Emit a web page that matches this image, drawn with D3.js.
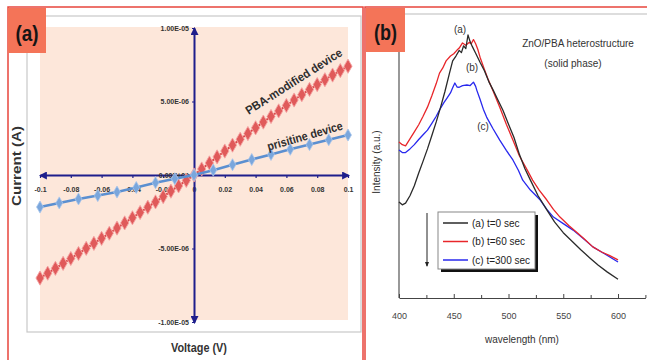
<!DOCTYPE html>
<html>
<head>
<meta charset="utf-8">
<title>I-V and PL spectra</title>
<style>
body{margin:0;background:#fff;}
text{font-family:"Liberation Sans Narrow","Liberation Sans",Arial,sans-serif;}
.pb text{font-family:"Liberation Sans",Arial,sans-serif;}
</style>
</head>
<body>
<svg width="647" height="360"></svg>
<script src="https://d3js.org/d3.v7.min.js"></script>
<script>
// ---- panel (a): I-V curves ----
var pbaVolts = [-0.1,-0.095,-0.09,-0.085,-0.08,-0.075,-0.07,-0.065,-0.06,-0.055,-0.05,-0.045,-0.04,-0.035,-0.03,-0.025,-0.02,-0.015,-0.01,-0.005,
  0,0.005,0.01,0.015,0.02,0.025,0.03,0.035,0.04,0.045,0.05,0.055,0.06,0.065,0.07,0.075,0.08,0.085,0.09,0.095,0.1];
// current in 1e-6 A
var pbaCurrent = [-7.01,-6.68,-6.35,-6.01,-5.68,-5.34,-4.99,-4.65,-4.31,-3.96,-3.61,-3.26,-2.91,-2.55,-2.19,-1.83,-1.47,-1.10,-0.74,-0.37,
  0,0.41,0.82,1.23,1.63,2.03,2.43,2.82,3.21,3.60,3.98,4.36,4.73,5.10,5.46,5.82,6.15,6.48,6.80,7.10,7.40];
var priVolts = [-0.1,-0.0875,-0.075,-0.0625,-0.05,-0.0375,-0.025,-0.0125,0,0.0125,0.025,0.0375,0.05,0.0625,0.075,0.0875,0.1];
var priCurrent = [-2.18,-1.90,-1.63,-1.40,-1.16,-0.85,-0.52,-0.25,0,0.33,0.70,1.05,1.40,1.75,2.07,2.40,2.72];
var voltTicks = [-0.1,-0.08,-0.06,-0.04,-0.02,0,0.02,0.04,0.06,0.08,0.1];
var currentTicks = [-1e-5,-5e-6,0,5e-6,1e-5];
var currentTickLabels = ["-1.00E-05","-5.00E-06","0.00E+00","5.00E-06","1.00E-05"];

// ---- panel (b): PL spectra ----
var wlA = [400,403,406,410,414,418,422,426,430,434,438,442,446,449,452,455,457,459,461,463,465,467,470,474,478,482,486,490,495,500,505,510,515,520,527,535,542,550,558,566,574,582,590,600];
var intA = [338,328,334,360,395,440,482,525,572,620,672,728,790,835,852,872,864,888,878,926,902,885,862,830,800,762,732,700,660,612,565,505,455,415,360,310,268,230,200,170,142,115,92,66];
var wlB = [400,403,406,410,414,418,422,426,430,434,437,440,443,447,450,453,455,458,461,464,466,468,470,472,474,478,481,486,492,498,504,510,517,522,528,535,541,547,555,563,570,577,585,592,600];
var intB = [549,540,536,560,585,610,640,672,712,755,792,810,835,852,860,873,880,898,890,900,895,910,895,875,848,805,774,728,672,612,556,500,451,415,380,345,312,285,255,229,205,180,162,150,134];
var wlC = [400,403,406,410,414,418,422,426,430,434,437,441,444,447,449,451,453,455,458,462,465,468,470,471,474,477,480,486,492,498,504,509,513,520,529,535,541,550,559,568,577,588,600];
var intC = [521,512,512,525,540,558,575,591,615,640,662,688,705,722,740,757,743,742,748,750,748,760,745,732,700,665,637,595,556,520,486,450,415,380,345,312,285,262,239,210,180,155,127];
var wlTicks = [400,450,500,550,600];
var wlMinor = [425,475,525,575,625];
var legendLabels = ["(a) t=0 sec","(b) t=60 sec","(c) t=300 sec"];
var curveColors = ["#2a2a2a","#e8262a","#2828ee"];

var svg = d3.select("svg");
var defs = svg.append("defs");
defs.append("marker").attr("id","arr").attr("viewBox","0 0 10 10")
    .attr("refX",8).attr("refY",5).attr("markerWidth",4).attr("markerHeight",4)
    .attr("orient","auto-start-reverse")
    .append("path").attr("d","M0,0L10,5L0,10z").attr("fill","#1e1e8c");
defs.append("marker").attr("id","arrK").attr("viewBox","0 0 10 10")
    .attr("refX",8).attr("refY",5).attr("markerWidth",5).attr("markerHeight",5)
    .attr("orient","auto")
    .append("path").attr("d","M0,1L10,5L0,9z").attr("fill","#222");

// ================= panel (a) =================
var pa = svg.append("g");
pa.append("rect").attr("x",8).attr("y",7).attr("width",355).attr("height",360)
  .attr("fill","#fff").attr("stroke","#e8453c").attr("stroke-width",1.5);
pa.append("rect").attr("x",27).attr("y",16).attr("width",334).attr("height",316)
  .attr("fill","#fff").attr("stroke","#c8c8c8").attr("stroke-width",1.2);

var x = d3.scaleLinear().domain([-0.1,0.1]).range([40,348]);
var y = d3.scaleLinear().domain([-1e-5,1e-5]).range([322,28]);

pa.append("rect").attr("x",40).attr("y",27).attr("width",308).attr("height",293).attr("fill","#fde7da");

var pbaPts = pbaVolts.map(function(v,i){ return [v, pbaCurrent[i]*1e-6]; });
var priPts = priVolts.map(function(v,i){ return [v, priCurrent[i]*1e-6]; });
var line = d3.line().x(function(d){return x(d[0]);}).y(function(d){return y(d[1]);});

// axes
var xAxis = pa.append("g").attr("transform","translate(0,"+y(0)+")")
  .call(d3.axisBottom(x).tickValues(voltTicks).tickSize(3).tickSizeOuter(0).tickPadding(9)
    .tickFormat(function(d){ return d===0 ? "0" : String(+d.toFixed(2)); }));
var yAxis = pa.append("g").attr("transform","translate("+x(0)+",0)")
  .call(d3.axisLeft(y).tickValues(currentTicks).tickSize(2).tickSizeOuter(0).tickPadding(3)
    .tickFormat(function(d,i){ return currentTickLabels[i]; }));
[xAxis,yAxis].forEach(function(a){
  a.select(".domain").attr("stroke","#1e1e8c").attr("stroke-width",2)
   .attr("marker-start","url(#arr)").attr("marker-end","url(#arr)");
  a.selectAll(".tick line").attr("stroke","#1e1e8c").attr("stroke-width",1.2);
  a.selectAll(".tick text").attr("fill","#333").attr("font-size",7).attr("font-weight","bold")
   .style("font-family","'Liberation Sans Narrow','Liberation Sans',Arial,sans-serif");
});

pa.append("path").datum(pbaPts).attr("d",line).attr("fill","none").attr("stroke","#d94848").attr("stroke-width",2);
pa.append("g").selectAll("path").data(pbaPts).enter().append("path")
  .attr("transform",function(d){return "translate("+x(d[0])+","+y(d[1])+")";})
  .attr("d",d3.symbol(d3.symbolDiamond).size(58))
  .attr("fill","#e05a5a").attr("stroke","#f4a3a3").attr("stroke-width",0.9);

pa.append("path").datum(priPts).attr("d",line).attr("fill","none").attr("stroke","#5b8fd0").attr("stroke-width",2.6);
pa.append("g").selectAll("path").data(priPts).enter().append("path")
  .attr("transform",function(d){return "translate("+x(d[0])+","+y(d[1])+")";})
  .attr("d",d3.symbol(d3.symbolDiamond).size(42))
  .attr("fill","#7aa6dc").attr("stroke","#a9c6ec").attr("stroke-width",0.8);

pa.append("text").attr("transform","translate(296,85) rotate(-32.5)").attr("text-anchor","middle")
  .attr("font-size",12).attr("font-weight","bold").attr("fill","#2e2e2e")
  .attr("textLength",112).attr("lengthAdjust","spacingAndGlyphs").text("PBA-modified device");
pa.append("text").attr("transform","translate(306,140) rotate(-16)").attr("text-anchor","middle")
  .attr("font-size",12).attr("font-weight","bold").attr("fill","#2e2e2e")
  .attr("textLength",78).attr("lengthAdjust","spacingAndGlyphs").text("prisitine device");
pa.append("text").attr("transform","translate(21,166) rotate(-90)").attr("text-anchor","middle")
  .attr("font-size",12).attr("font-weight","bold").attr("fill","#333")
  .attr("textLength",80).attr("lengthAdjust","spacingAndGlyphs").text("Current (A)");
pa.append("text").attr("x",199).attr("y",352).attr("text-anchor","middle")
  .attr("font-size",13).attr("font-weight","bold").attr("fill","#333")
  .attr("textLength",56).attr("lengthAdjust","spacingAndGlyphs").text("Voltage (V)");

pa.append("rect").attr("x",8).attr("y",8).attr("width",38).attr("height",45).attr("fill","#f47458");
pa.append("text").attr("x",27).attr("y",41).attr("text-anchor","middle")
  .attr("font-size",22).attr("font-weight","bold").attr("fill","#151515")
  .attr("textLength",23).attr("lengthAdjust","spacingAndGlyphs").text("(a)");

// ================= panel (b) =================
var pb = svg.append("g").attr("class","pb");
pb.append("rect").attr("x",365).attr("y",7).attr("width",300).attr("height",360)
  .attr("fill","#fff").attr("stroke","#e8453c").attr("stroke-width",1.5);

var xb = d3.scaleLinear().domain([400,625]).range([399,645.4]);
var yb = d3.scaleLinear().domain([0,1000]).range([298,14]);

pb.append("line").attr("x1",399).attr("x2",647).attr("y1",14).attr("y2",14).attr("stroke","#bbb");
pb.append("line").attr("x1",399).attr("x2",399).attr("y1",14).attr("y2",298).attr("stroke","#444").attr("stroke-width",1.1);

var xbAxis = pb.append("g").attr("transform","translate(0,298)")
  .call(d3.axisBottom(xb).tickValues(wlTicks).tickSize(-4).tickSizeOuter(0).tickPadding(15));
xbAxis.select(".domain").attr("stroke","#444").attr("stroke-width",1.1);
xbAxis.selectAll(".tick line").attr("stroke","#444");
xbAxis.selectAll(".tick text").attr("fill","#444").attr("font-size",9);
pb.append("g").attr("transform","translate(0,298)")
  .call(d3.axisBottom(xb).tickValues(wlMinor).tickSize(-3).tickFormat(""))
  .call(function(g){ g.select(".domain").remove(); g.selectAll("line").attr("stroke","#444"); });

var specs = [[wlA,intA],[wlB,intB],[wlC,intC]];
var lineB = d3.line().x(function(d){return xb(d[0]);}).y(function(d){return yb(d[1]);});
[2,1,0].forEach(function(k){
  var pts = specs[k][0].map(function(w,i){ return [w, specs[k][1][i]]; });
  pb.append("path").datum(pts).attr("d",lineB).attr("fill","none")
    .attr("stroke",curveColors[k]).attr("stroke-width",1.3).attr("stroke-linejoin","round");
});

pb.append("text").attr("x",460).attr("y",33).attr("text-anchor","middle").attr("font-size",10).attr("fill","#333").text("(a)");
pb.append("text").attr("x",472).attr("y",71).attr("text-anchor","middle").attr("font-size",10).attr("fill","#333").text("(b)");
pb.append("text").attr("x",483).attr("y",130).attr("text-anchor","middle").attr("font-size",10).attr("fill","#333").text("(c)");
pb.append("text").attr("x",578).attr("y",47).attr("text-anchor","middle").attr("font-size",10).attr("fill","#333").text("ZnO/PBA heterostructure");
pb.append("text").attr("x",573).attr("y",67).attr("text-anchor","middle").attr("font-size",10).attr("fill","#333").text("(solid phase)");
pb.append("text").attr("x",522).attr("y",343).attr("text-anchor","middle").attr("font-size",10).attr("fill","#333").text("wavelength (nm)");
pb.append("text").attr("transform","translate(380,162) rotate(-90)").attr("text-anchor","middle").attr("font-size",10).attr("fill","#333").text("Intensity (a.u.)");

// legend
var lg = pb.append("g");
lg.append("rect").attr("x",441).attr("y",215).attr("width",97).attr("height",57).attr("fill","#111");
lg.append("rect").attr("x",438).attr("y",212).attr("width",97).attr("height",57).attr("fill","#fff").attr("stroke","#888");
legendLabels.forEach(function(t,i){
  var yy = 223 + i*18.5;
  lg.append("line").attr("x1",443).attr("x2",468).attr("y1",yy).attr("y2",yy)
    .attr("stroke",curveColors[i]).attr("stroke-width",1.5);
  lg.append("text").attr("x",472).attr("y",yy+3.5).attr("font-size",10).attr("fill","#222").text(t);
});
pb.append("line").attr("x1",427).attr("x2",427).attr("y1",213).attr("y2",266)
  .attr("stroke","#222").attr("stroke-width",1).attr("marker-end","url(#arrK)");

pb.append("rect").attr("x",366).attr("y",8).attr("width",39).attr("height",44).attr("fill","#f47458");
pb.append("text").attr("x",385.5).attr("y",40).attr("text-anchor","middle")
  .attr("font-size",22).attr("font-weight","bold").attr("fill","#151515")
  .attr("textLength",23).attr("lengthAdjust","spacingAndGlyphs").text("(b)");
</script>
</body>
</html>
